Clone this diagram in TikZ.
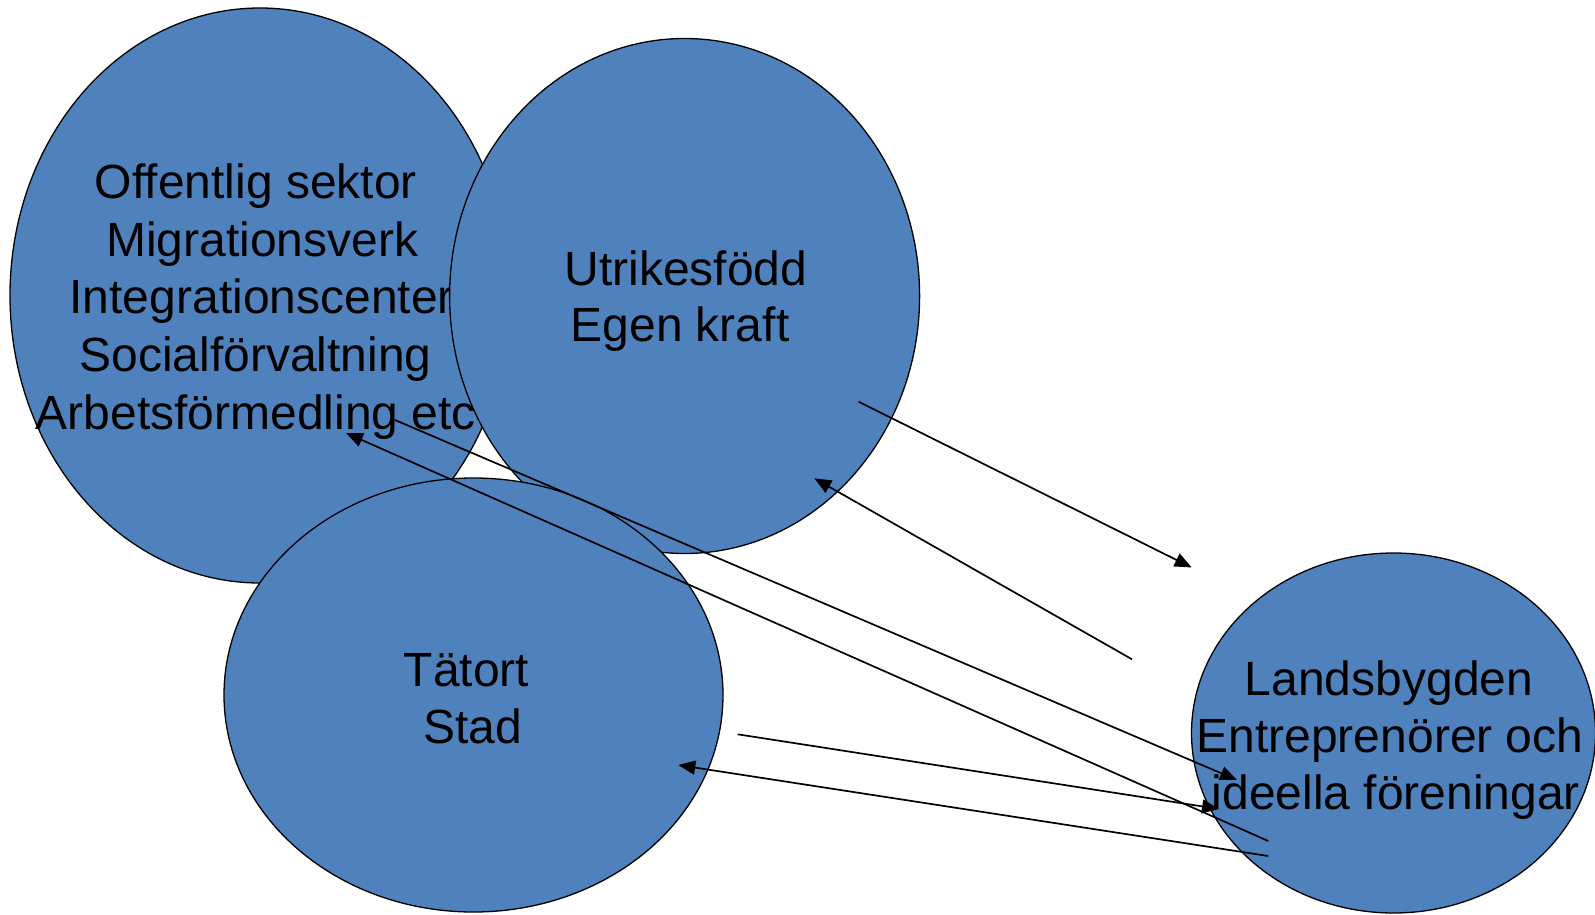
\documentclass[tikz,border=0pt]{standalone}
\usepackage{fontspec}
\setmainfont{Liberation Sans}
\usetikzlibrary{shapes.geometric,arrows.meta}
\definecolor{blobblue}{HTML}{4F81BD}
\begin{document}
\begin{tikzpicture}[x=1pt,y=-1pt,
  blob/.style={ellipse, draw=black, line width=1.3pt, fill=blobblue, inner sep=0pt},
  lbl/.style={font=\fontsize{48}{57}\selectfont, anchor=base, inner sep=0pt, text=black},
  conn/.style={line width=1.7pt, draw=black, -{Triangle[length=17pt,width=14pt]}}]
\useasboundingbox (0,0) rectangle (1595,915);

% Offentlig sektor
\node[blob, minimum width=500pt, minimum height=575pt] (off) at (260,295.5) {};
\node[lbl] (off1) at (255.8,198.3) {Offentlig sektor};
\node[lbl] (off2) at (262.3,256) {Migrationsverk};
\node[lbl] (off3) at (261.7,313.3) {Integrationscenter};
\node[lbl] (off4) at (255.5,371.3) {Socialförvaltning};
\node[lbl] (off5) at (255.8,429.3) {Arbetsförmedling etc};

% Utrikesfödd
\node[blob, minimum width=470pt, minimum height=515pt] (utr) at (684.6,296) {};
\node[lbl] (utr1) at (685.8,285) {Utrikesfödd};
\node[lbl] (utr2) at (680,341.7) {Egen kraft};

% Tätort
\node[blob, minimum width=499pt, minimum height=434pt] (tat) at (473.5,695) {};
\node[lbl] (tat1) at (466.4,686.7) {Tätort};
\node[lbl] (tat2) at (473,743.3) {Stad};

% Landsbygden
\node[blob, minimum width=404pt, minimum height=360pt] (lan) at (1393.5,733) {};
\node[lbl] (lan1) at (1389,695) {Landsbygden};
\node[lbl] (lan2) at (1390,752.7) {Entreprenörer och};
\node[lbl] (lan3) at (1395.8,809.3) {ideella föreningar};

% connector end points
\coordinate (a1s) at (858.6,401.7);
\coordinate (a1e) at (1191.7,567.5);
\coordinate (a2s) at (1132,659.3);
\coordinate (a2e) at (814.3,478.3);
\coordinate (a3s) at (395,420);
\coordinate (a3e) at (1237,780);
\coordinate (a4s) at (1268.3,841);
\coordinate (a4e) at (346,433);
\coordinate (a5s) at (737.7,734.3);
\coordinate (a5e) at (1219,809);
\coordinate (a6s) at (1268.3,856);
\coordinate (a6e) at (678.3,765);

\draw[conn] (a1s) -- (a1e);
\draw[conn] (a2s) -- (a2e);
\draw[conn] (a3s) -- (a3e);
\draw[conn] (a4s) -- (a4e);
\draw[conn] (a5s) -- (a5e);
\draw[conn] (a6s) -- (a6e);
\end{tikzpicture}
\end{document}
